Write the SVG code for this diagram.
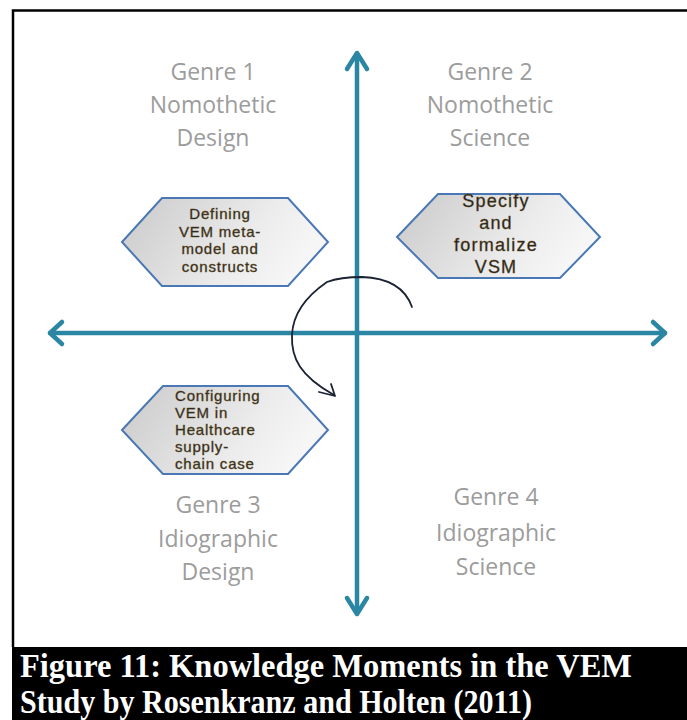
<svg xmlns="http://www.w3.org/2000/svg" width="687" height="720" viewBox="0 0 687 720">
  <defs>
    <linearGradient id="hexFill" x1="0" y1="0" x2="1" y2="0.3">
      <stop offset="0" stop-color="#c9c9c9"/>
      <stop offset="0.7" stop-color="#ececec"/>
      <stop offset="1" stop-color="#f6f6f6"/>
    </linearGradient>
  </defs>
  <style>
    .genre { font-family: "Open Sans", "Liberation Sans", sans-serif; font-size: 23px; fill: #9c9c9c; text-anchor: middle; }
    .hex { fill: url(#hexFill); stroke: #4a78b4; stroke-width: 2; stroke-linejoin: miter; }
    .hext { font-family: "Liberation Sans", Arial, sans-serif; font-size: 15px; letter-spacing: 0.8px; fill: #1c1c1c; stroke: #6b5428; stroke-width: 0.4; }
    .hext2 { font-size: 18px; letter-spacing: 1.2px; }
    .axis { fill: none; stroke: #2b86a4; stroke-width: 4.5; stroke-linecap: round; stroke-linejoin: round; }
    .loop { fill: none; stroke: #1a2233; stroke-width: 1.8; stroke-linecap: round; stroke-linejoin: round; }
    .cap { font-family: "Liberation Serif", "Times New Roman", serif; font-weight: bold; font-size: 33px; fill: #ffffff; }
  </style>

  <rect x="0" y="0" width="687" height="720" fill="#ffffff"/>
  <!-- frame -->
  <path d="M13,647 L13,10.5 L687,10.5" fill="none" stroke="#000" stroke-width="2.5"/>
  <rect x="12" y="647" width="675" height="73" fill="#000"/>

  <g id="connectors">
    <path class="axis" d="M357,54 L357,613"/>
    <polyline class="axis" points="347,69 357,53 367,69"/>
    <polyline class="axis" points="347,598 357,614 367,598"/>
    <path class="axis" d="M50,333 L665,333"/>
    <polyline class="axis" points="62,322 50,333 62,344"/>
    <polyline class="axis" points="653,322 665,333 653,344"/>
    <path class="loop" d="M412,307 C406,290 392,278 362,277 C345,277 335,279 327,282 C308,295 293,312 292,335 C291,358 300,376 334,395"/>
    <polyline class="loop" points="319,392 335,396 331,384"/>
  </g>

  <g id="genre1">
    <text class="genre" x="213" y="80">Genre 1</text>
    <text class="genre" x="213" y="113">Nomothetic</text>
    <text class="genre" x="213" y="146">Design</text>
  </g>
  <g id="genre2">
    <text class="genre" x="490" y="80">Genre 2</text>
    <text class="genre" x="490" y="113">Nomothetic</text>
    <text class="genre" x="490" y="146">Science</text>
  </g>
  <g id="genre3">
    <text class="genre" x="218" y="513">Genre 3</text>
    <text class="genre" x="218" y="547">Idiographic</text>
    <text class="genre" x="218" y="580">Design</text>
  </g>
  <g id="genre4">
    <text class="genre" x="496" y="505">Genre 4</text>
    <text class="genre" x="496" y="541">Idiographic</text>
    <text class="genre" x="496" y="575">Science</text>
  </g>

  <g id="hex-defining">
    <polygon class="hex" points="122,242 162,198 288,198 328,242 288,286 162,286"/>
    <text class="hext" text-anchor="middle" x="220" y="219">Defining</text>
    <text class="hext" text-anchor="middle" x="220" y="236.5">VEM meta-</text>
    <text class="hext" text-anchor="middle" x="220" y="254">model  and</text>
    <text class="hext" text-anchor="middle" x="220" y="271.5">constructs</text>
  </g>

  <g id="hex-specify">
    <polygon class="hex" points="397,237 438,194 560,194 600,237 560,278 438,278"/>
    <text class="hext hext2" text-anchor="middle" x="496" y="207">Specify</text>
    <text class="hext hext2" text-anchor="middle" x="496" y="229">and</text>
    <text class="hext hext2" text-anchor="middle" x="496" y="251">formalize</text>
    <text class="hext hext2" text-anchor="middle" x="496" y="273">VSM</text>
  </g>

  <g id="hex-configuring">
    <polygon class="hex" points="122,430 163,386 288,386 328,430 288,474 163,474"/>
    <text class="hext" x="175" y="401">Configuring</text>
    <text class="hext" x="175" y="418">VEM in</text>
    <text class="hext" x="175" y="435">Healthcare</text>
    <text class="hext" x="175" y="452">supply-</text>
    <text class="hext" x="175" y="469">chain  case</text>
  </g>

  <g id="caption">
    <text class="cap" x="20" y="677" textLength="612" lengthAdjust="spacingAndGlyphs">Figure 11: Knowledge Moments in the VEM</text>
    <text class="cap" x="20" y="713" textLength="512" lengthAdjust="spacingAndGlyphs">Study by Rosenkranz and Holten (2011)</text>
  </g>
</svg>
